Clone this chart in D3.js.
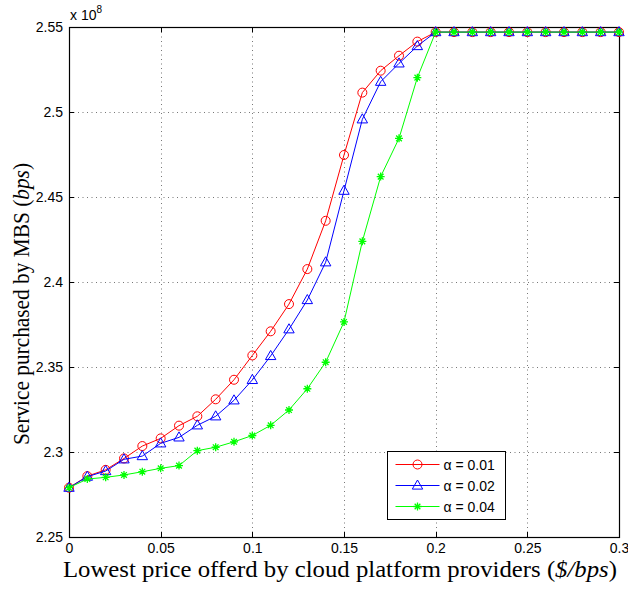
<!DOCTYPE html>
<html>
<head>
<meta charset="utf-8">
<script src="https://cdn.jsdelivr.net/npm/d3@7"></script>
<style>
  html, body { margin: 0; padding: 0; background: #fff; }
  svg { display: block; }
  .tick-label { font-family: "Liberation Sans", Arial, sans-serif; font-size: 14px; fill: #000; }
  .axis-title { font-family: "Liberation Serif", "Times New Roman", serif; font-size: 23px; fill: #000; }
  .legend-text { font-family: "Liberation Sans", Arial, sans-serif; font-size: 14px; fill: #000; }
</style>
</head>
<body>
<svg id="chart" width="628" height="589"></svg>
<script>
// price offered (x) — 0 .. 0.3 in steps of 0.01
const prices = [0, 0.01, 0.02, 0.03, 0.04, 0.05, 0.06, 0.07, 0.08, 0.09, 0.10,
  0.11, 0.12, 0.13, 0.14, 0.15, 0.16, 0.17, 0.18, 0.19, 0.20,
  0.21, 0.22, 0.23, 0.24, 0.25, 0.26, 0.27, 0.28, 0.29, 0.30];

// service purchased, in units of 1e8 bps
const alpha001 = [2.279, 2.2858, 2.2895, 2.2962, 2.3035, 2.3080, 2.3155, 2.3210, 2.3310, 2.3425, 2.3568,
  2.3710, 2.3870, 2.4076, 2.4360, 2.4747, 2.5114, 2.5243, 2.5331, 2.5414, 2.547,
  2.547, 2.547, 2.547, 2.547, 2.547, 2.547, 2.547, 2.547, 2.547, 2.547];
const alpha002 = [2.279, 2.2855, 2.2888, 2.2957, 2.2976, 2.3051, 2.3086, 2.3157, 2.3210, 2.3304, 2.3424,
  2.3565, 2.3722, 2.3894, 2.4116, 2.4537, 2.4957, 2.5178, 2.5286, 2.5388, 2.547,
  2.547, 2.547, 2.547, 2.547, 2.547, 2.547, 2.547, 2.547, 2.547, 2.547];
const alpha004 = [2.279, 2.2841, 2.2851, 2.2865, 2.2884, 2.2904, 2.2920, 2.3008, 2.3028, 2.3060, 2.3097,
  2.3157, 2.3247, 2.3372, 2.3528, 2.3765, 2.4239, 2.4620, 2.4845, 2.5202, 2.547,
  2.547, 2.547, 2.547, 2.547, 2.547, 2.547, 2.547, 2.547, 2.547, 2.547];

const xTicks = [0, 0.05, 0.1, 0.15, 0.2, 0.25, 0.3];
const xTickLabels = ["0", "0.05", "0.1", "0.15", "0.2", "0.25", "0.3"];
const yTicks = [2.25, 2.3, 2.35, 2.4, 2.45, 2.5, 2.55];
const yTickLabels = ["2.25", "2.3", "2.35", "2.4", "2.45", "2.5", "2.55"];

const seriesNames = ["α = 0.01", "α = 0.02", "α = 0.04"];
const seriesColors = ["#ff0000", "#0000ff", "#00ff00"];
const seriesMarkers = ["circle", "triangle", "star"];
const seriesValues = [alpha001, alpha002, alpha004];

// ---------- layout ----------
const margin = { left: 69, right: 9, top: 27, bottom: 52 };
const W = 628, H = 589;
const x = d3.scaleLinear().domain([0, 0.3]).range([margin.left, W - margin.right]);
const y = d3.scaleLinear().domain([2.25, 2.55]).range([H - margin.bottom, margin.top]);

const svg = d3.select("#chart");

// grid (dotted, MATLAB-style)
const grid = svg.append("g").attr("stroke", "#777").attr("stroke-width", 1).attr("stroke-dasharray", "1,3.5");
grid.selectAll("line.gx").data(xTicks.slice(1, -1)).join("line")
  .attr("x1", (d) => Math.round(x(d)) + 0.5).attr("x2", (d) => Math.round(x(d)) + 0.5)
  .attr("y1", y.range()[0]).attr("y2", y.range()[1]);
grid.selectAll("line.gy").data(yTicks.slice(1, -1)).join("line")
  .attr("y1", (d) => Math.round(y(d)) + 0.5).attr("y2", (d) => Math.round(y(d)) + 0.5)
  .attr("x1", x.range()[0]).attr("x2", x.range()[1]);

// axes: ticks inward on all four sides
const tickLen = 5;
const axisBottom = d3.axisBottom(x).tickValues(xTicks).tickSize(0).tickPadding(6)
  .tickFormat((d, i) => xTickLabels[i]);
const axisLeft = d3.axisLeft(y).tickValues(yTicks).tickSize(0).tickPadding(6)
  .tickFormat((d, i) => yTickLabels[i]);

const gx = svg.append("g").attr("transform", `translate(0,${y.range()[0]})`).call(axisBottom);
const gy = svg.append("g").attr("transform", `translate(${x.range()[0]},0)`).call(axisLeft);
for (const g of [gx, gy]) {
  g.select(".domain").remove();
  g.selectAll("text").attr("class", "tick-label").attr("font-family", null).attr("font-size", null);
}

const tg = svg.append("g").attr("stroke", "#000").attr("stroke-width", 1);
for (const t of xTicks) {
  const px = Math.round(x(t)) + 0.5;
  tg.append("line").attr("x1", px).attr("x2", px).attr("y1", y.range()[0]).attr("y2", y.range()[0] - tickLen);
  tg.append("line").attr("x1", px).attr("x2", px).attr("y1", y.range()[1]).attr("y2", y.range()[1] + tickLen);
}
for (const t of yTicks) {
  const py = Math.round(y(t)) + 0.5;
  tg.append("line").attr("y1", py).attr("y2", py).attr("x1", x.range()[0]).attr("x2", x.range()[0] + tickLen);
  tg.append("line").attr("y1", py).attr("y2", py).attr("x1", x.range()[1]).attr("x2", x.range()[1] - tickLen);
}

// box
svg.append("rect")
  .attr("x", x.range()[0] + 0.5).attr("y", y.range()[1] + 0.5)
  .attr("width", x.range()[1] - x.range()[0]).attr("height", y.range()[0] - y.range()[1])
  .attr("fill", "none").attr("stroke", "#000").attr("stroke-width", 1.2);

// exponent label
const expo = svg.append("text").attr("class", "tick-label").attr("x", x.range()[0] + 1).attr("y", 20);
expo.append("tspan").text("x 10");
expo.append("tspan").attr("dy", -7).attr("font-size", 10).text("8");

// ---------- markers ----------
function drawMarker(g, type, color) {
  if (type === "circle") {
    g.append("circle").attr("r", 4.5).attr("fill", "none").attr("stroke", color).attr("stroke-width", 1);
  } else if (type === "triangle") {
    g.append("path").attr("d", "M0,-5.5L5.2,3.6L-5.2,3.6Z").attr("fill", "none").attr("stroke", color).attr("stroke-width", 1);
  } else {
    const r = 4;
    const d = d3.range(4).map((k) => {
      const a = (k * Math.PI) / 4;
      return `M${-r * Math.cos(a)},${-r * Math.sin(a)}L${r * Math.cos(a)},${r * Math.sin(a)}`;
    }).join("");
    g.append("path").attr("d", d).attr("stroke", color).attr("stroke-width", 1.3);
  }
}

const line = d3.line().x((d, i) => x(prices[i])).y((d) => y(d));
seriesValues.forEach((vals, s) => {
  const g = svg.append("g");
  g.append("path").datum(vals).attr("d", line).attr("fill", "none")
    .attr("stroke", seriesColors[s]).attr("stroke-width", 1);
  g.selectAll("g.m").data(vals).join("g")
    .attr("transform", (d, i) => `translate(${x(prices[i])},${y(d)})`)
    .each(function () { drawMarker(d3.select(this), seriesMarkers[s], seriesColors[s]); });
});

// ---------- legend ----------
const lg = svg.append("g").attr("transform", "translate(387.5,451.5)");
lg.append("rect").attr("width", 118).attr("height", 68).attr("fill", "#fff").attr("stroke", "#000").attr("stroke-width", 1);
seriesNames.forEach((name, s) => {
  const yy = 13 + s * 21;
  lg.append("line").attr("x1", 8).attr("x2", 52).attr("y1", yy).attr("y2", yy)
    .attr("stroke", seriesColors[s]).attr("stroke-width", 1);
  drawMarker(lg.append("g").attr("transform", `translate(30,${yy})`), seriesMarkers[s], seriesColors[s]);
  lg.append("text").attr("class", "legend-text").attr("x", 56).attr("y", yy + 5).text(name);
});

// ---------- axis titles ----------
const xt = svg.append("text").attr("class", "axis-title").attr("text-anchor", "middle")
  .attr("x", 340).attr("y", 577)
  .attr("textLength", 554).attr("lengthAdjust", "spacingAndGlyphs");
xt.append("tspan").text("Lowest price offerd by cloud platform providers (");
xt.append("tspan").attr("font-style", "italic").text("$/bps");
xt.append("tspan").text(")");

const yt = svg.append("text").attr("class", "axis-title").attr("text-anchor", "middle")
  .attr("transform", "translate(29,304) rotate(-90)")
  .attr("textLength", 282).attr("lengthAdjust", "spacingAndGlyphs");
yt.append("tspan").text("Service purchased by MBS (");
yt.append("tspan").attr("font-style", "italic").text("bps");
yt.append("tspan").text(")");
</script>
</body>
</html>
